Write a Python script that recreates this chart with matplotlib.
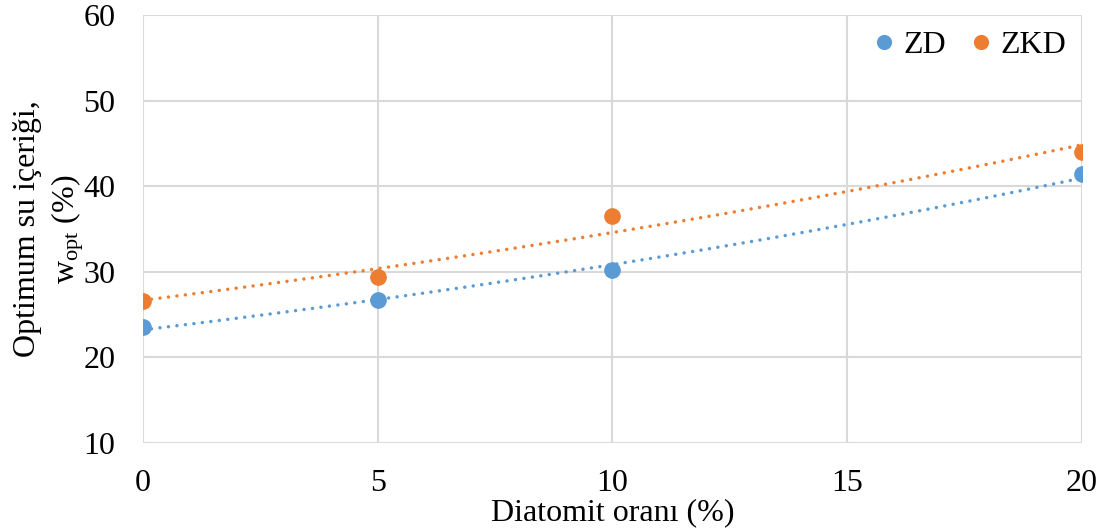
import numpy as np
import matplotlib
matplotlib.use("Agg")
import matplotlib.pyplot as plt

plt.rcParams['font.family'] = ['Liberation Serif', 'DejaVu Serif']
plt.rcParams['mathtext.fontset'] = 'custom'
plt.rcParams['mathtext.rm'] = 'Liberation Serif'
plt.rcParams['mathtext.it'] = 'Liberation Serif:italic'

diatomit = [0, 5, 10, 20]
zd = [23.5, 26.7, 30.2, 41.4]
zkd = [26.6, 29.4, 36.5, 44.0]

blue = "#5B9BD5"
orange = "#ED7D31"

fig = plt.figure(figsize=(11.05, 5.32), dpi=100)
ax = fig.add_axes([0.1294, 0.1673, 0.8495, 0.8045])

x = np.array(diatomit, dtype=float)
xs = np.linspace(0, 20, 200)
for vals, col, name in [(zd, blue, "ZD"), (zkd, orange, "ZKD")]:
    # exponential trendline (as in Excel)
    b, a = np.polyfit(x, np.log(vals), 1)
    ax.plot(xs, np.exp(a + b * xs), color=col, lw=2.5, ls=(0, (0.01, 2.45)),
            dash_capstyle='round', zorder=2)
    ax.plot(diatomit, vals, 'o', color=col, ms=11, label=name, zorder=3)

ax.set_xlim(0, 20)
ax.set_ylim(10, 60)
ax.set_xticks([0, 5, 10, 15, 20])
ax.set_yticks([10, 20, 30, 40, 50, 60])
ax.grid(True, color="#D9D9D9", lw=1.5)
ax.set_axisbelow(True)
for s in ax.spines.values():
    s.set_visible(False)
ax.tick_params(length=0, labelsize=23)
ax.tick_params(axis='x', pad=19)
ax.tick_params(axis='y', pad=20)

ax.set_xlabel("Diatomit oranı (%)", fontsize=23, labelpad=0)
ax.set_ylabel("Optimum su içeriği,\nw$_{\\mathrm{opt}}$ (%)", fontsize=23,
              labelpad=-2, linespacing=1.3)

ax.legend(loc='upper right', ncol=2, frameon=False, fontsize=23,
          handlelength=0.8, handletextpad=0.2, columnspacing=0.7,
          borderaxespad=0.3, markerscale=0.9, borderpad=0.2)

fig.savefig("out.png", dpi=100)
